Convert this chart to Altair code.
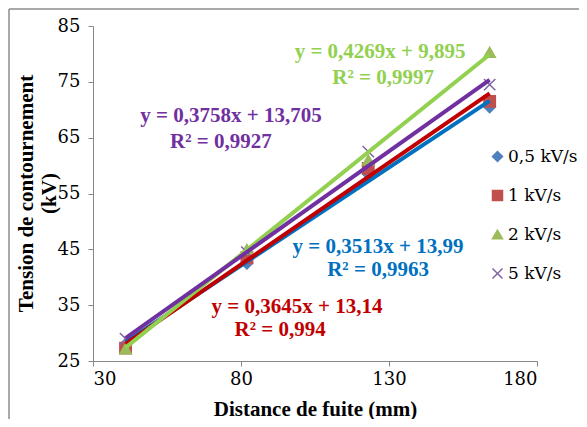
import altair as alt
import pandas as pd

# ---- data ----
distance = [41, 82, 123, 164]
series = ["0,5 kV/s", "1 kV/s", "2 kV/s", "5 kV/s"]
v_05 = [27.5, 42.5, 58.5, 70.5]
v_1 = [27.3, 43.5, 59.5, 71.5]
v_2 = [27.2, 45.0, 61.0, 80.3]
v_5 = [29.0, 44.5, 62.5, 74.5]
slopes = [0.3513, 0.3645, 0.4269, 0.3758]
intercepts = [13.99, 13.14, 9.895, 13.705]
r2 = ["0,9963", "0,994", "0,9997", "0,9927"]
eq_text = ["y = 0,3513x + 13,99", "y = 0,3645x + 13,14", "y = 0,4269x + 9,895", "y = 0,3758x + 13,705"]
# label anchor positions (data units) for equation and R² lines
eq_x = [126.3, 98.9, 127.0, 76.6]
eq_y = [45.4, 34.7, 80.4, 68.9]
r2_x = [126.3, 93.2, 128.0, 73.2]
r2_y = [41.3, 30.6, 75.7, 64.2]

x_ticks = [30, 80, 130, 180]
y_ticks = [25, 35, 45, 55, 65, 75, 85]

marker_colors = ["#4F81BD", "#C0504D", "#9BBB59", "#8064A2"]
line_colors = ["#0070C0", "#C00000", "#92D050", "#7030A0"]
shapes = ["diamond", "square", "triangle-up", "M-1,-1L1,1M-1,1L1,-1"]

values = [v_05, v_1, v_2, v_5]
pts = pd.DataFrame([
    {"serie": s, "x": xv, "y": yv}
    for s, vals in zip(series, values) for xv, yv in zip(distance, vals)
])
trend = pd.DataFrame([
    {"serie": s, "x": xv, "y": a * xv + b}
    for s, a, b in zip(series, slopes, intercepts) for xv in (min(distance), max(distance))
])
labels = pd.DataFrame(
    [{"serie": s, "x": ex, "y": ey, "t": t} for s, ex, ey, t in zip(series, eq_x, eq_y, eq_text)]
    + [{"serie": s, "x": rx, "y": ry, "t": "R² = " + r} for s, rx, ry, r in zip(series, r2_x, r2_y, r2)]
)

FONT = "Liberation Serif"
FONT_REG = "DejaVu Serif"
xs = alt.Scale(domain=[30, 180], nice=False, zero=False)
ys = alt.Scale(domain=[25, 85], nice=False, zero=False)
color_scale = alt.Scale(domain=series, range=line_colors)
mscale = alt.Scale(domain=series, range=marker_colors)

x_enc = alt.X("x:Q", scale=xs, axis=alt.Axis(
    values=x_ticks, title="Distance de fuite (mm)", labelPadding=4,
    titleY=54, titleBaseline="alphabetic"))
y_enc = alt.Y("y:Q", scale=ys, axis=alt.Axis(
    values=y_ticks, title=["Tension de contournement", "(kV)"], labelPadding=8,
    titleAngle=-90, titleX=-78, titleY=167, titleBaseline="top", titleAlign="center",
    titleLineHeight=23))

markers = alt.Chart(pts).mark_point(opacity=1, strokeWidth=1.5, size=130).encode(
    x=x_enc, y=y_enc,
    fill=alt.Fill("serie:N", scale=mscale, legend=alt.Legend(title=None)),
    stroke=alt.Stroke("serie:N", scale=mscale, legend=alt.Legend(title=None)),
    shape=alt.Shape("serie:N", scale=alt.Scale(domain=series, range=shapes), legend=alt.Legend(title=None)),
)

lines = alt.Chart(trend).mark_line(strokeWidth=4).encode(
    x="x:Q", y="y:Q",
    color=alt.Color("serie:N", scale=color_scale, legend=None),
    order=alt.Order("x:Q"),
)

texts = alt.Chart(labels).mark_text(font=FONT, fontSize=21, fontWeight="bold").encode(
    x="x:Q", y="y:Q", text="t:N",
    color=alt.Color("serie:N", scale=color_scale, legend=None),
)

border = alt.Chart(alt.Data(values=[{"a": 1}])).mark_rule(color="#8C8C8C", strokeWidth=1.5)
top_line = border.encode(x=alt.value(-84), x2=alt.value(494), y=alt.value(-17))
left_line = border.encode(x=alt.value(-84), y=alt.value(-17), y2=alt.value(410))

chart = alt.layer(markers, lines, texts, top_line, left_line).properties(
    width=444, height=335,
    autosize=alt.AutoSizeParams(type="none"),
    padding={"left": 85, "top": 18, "right": 42, "bottom": 58},
).configure_view(stroke=None).configure_axis(
    grid=False, domainColor="#868686", tickColor="#868686", tickSize=5,
    labelFont=FONT_REG, labelFontSize=18, labelColor="black",
    titleFont=FONT, titleFontSize=21, titleFontWeight="bold", titleColor="black",
).configure_legend(
    orient="none", legendX=396, legendY=122, labelFont=FONT_REG, labelFontSize=17,
    labelColor="black", symbolSize=100, rowPadding=21, labelOffset=2, symbolStrokeWidth=1.5,
)

chart.save("out.html", embed_options={"renderer": "svg", "actions": False})
